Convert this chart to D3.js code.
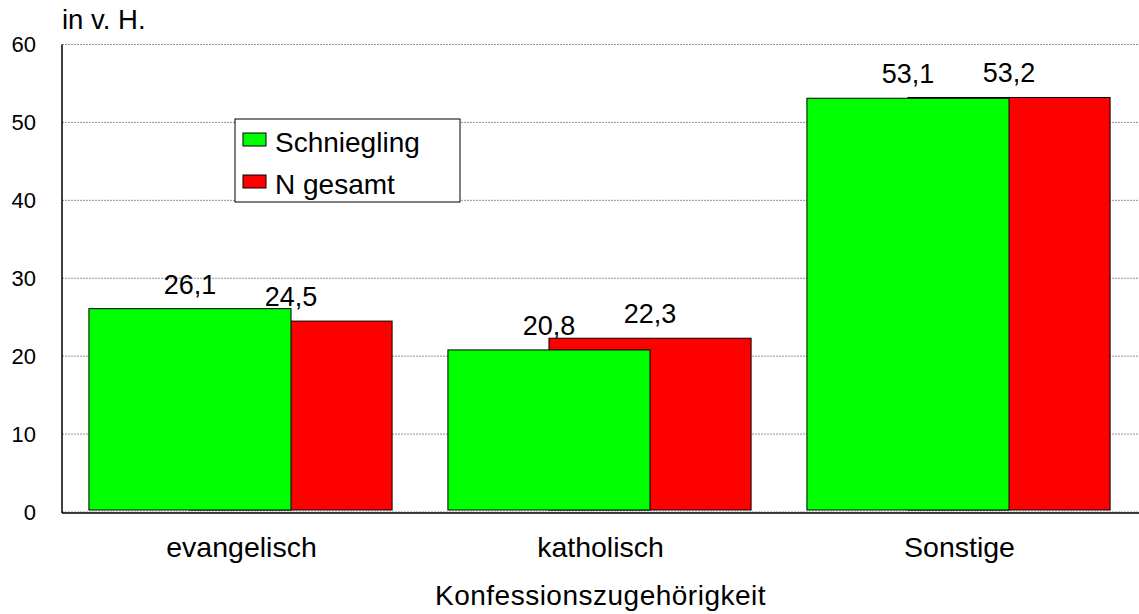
<!DOCTYPE html>
<html>
<head>
<meta charset="utf-8">
<script src="https://cdn.jsdelivr.net/npm/d3@7"></script>
<style>
	body { margin: 0; background: #fff; }
	svg { display: block; }
	text { font-family: "Liberation Sans", Arial, sans-serif; fill: #000; }
</style>
</head>
<body>
<svg width="1139" height="614"></svg>
<script>
// Konfessionszugehörigkeit: Schniegling vs. N gesamt

var categories = ["evangelisch", "katholisch", "Sonstige"];
var seriesNames = ["Schniegling", "N gesamt"];
var schniegling = [26.1, 20.8, 53.1];
var nGesamt = [24.5, 22.3, 53.2];
var yTicks = [0, 10, 20, 30, 40, 50, 60];
var seriesColors = ["#00ff00", "#ff0000"];

function draw(){
	var svg = d3.select("svg");
	var left = 62, right = 1139, top = 44.5, bottom = 512;

	var x = d3.scaleBand().domain(categories).range([left, right]);
	var y = d3.scaleLinear().domain([0, 60]).range([bottom, top]);

	// bars overlap by half their width (red drawn first, green on top)
	var barW = x.bandwidth() * 0.563;
	var groupW = barW * 1.5;
	var values = [schniegling, nGesamt];
	function barX(cat, s){
		return x(cat) + x.bandwidth() / 2 - groupW / 2 + s * barW / 2 - 1;
	}

	// gridlines
	svg.append("g")
		.selectAll("line")
		.data(yTicks)
		.enter().append("line")
		.attr("x1", left).attr("x2", right)
		.attr("y1", d => y(d)).attr("y2", d => y(d))
		.attr("stroke", "#909090")
		.attr("stroke-dasharray", "2,1")
		.attr("stroke-width", 1);

	// tick labels
	svg.append("g")
		.selectAll("text")
		.data(yTicks)
		.enter().append("text")
		.attr("x", 36)
		.attr("y", d => y(d))
		.attr("dy", "0.36em")
		.attr("text-anchor", "end")
		.style("font-size", "22px")
		.text(d => d);

	// bars
	var bars = svg.append("g");
	[1, 0].forEach(function(s){
		bars.selectAll("rect.s" + s)
			.data(categories)
			.enter().append("rect")
			.attr("class", "s" + s)
			.attr("x", c => barX(c, s))
			.attr("width", barW)
			.attr("y", (c, i) => y(values[s][i]))
			.attr("height", (c, i) => y(0) - y(values[s][i]) - 2)
			.attr("fill", seriesColors[s])
			.attr("stroke", "#000")
			.attr("stroke-width", 1);
	});

	// value labels
	[0, 1].forEach(function(s){
		svg.append("g")
			.selectAll("text")
			.data(categories)
			.enter().append("text")
			.attr("x", c => barX(c, s) + barW / 2)
			.attr("y", (c, i) => y(values[s][i]) - 15)
			.attr("text-anchor", "middle")
			.style("font-size", "27px")
			.text((c, i) => String(values[s][i]).replace(".", ","));
	});

	// axis lines
	svg.append("line")
		.attr("x1", left).attr("x2", left)
		.attr("y1", top).attr("y2", bottom + 1)
		.attr("stroke", "#000").attr("stroke-width", 1.5);
	svg.append("line")
		.attr("x1", left).attr("x2", right)
		.attr("y1", bottom + 1).attr("y2", bottom + 1)
		.attr("stroke", "#000").attr("stroke-width", 1.5);

	// category labels
	svg.append("g")
		.selectAll("text")
		.data(categories)
		.enter().append("text")
		.attr("x", c => x(c) + x.bandwidth() / 2)
		.attr("y", 557)
		.attr("text-anchor", "middle")
		.style("font-size", "28.5px")
		.text(c => c);

	svg.append("text")
		.attr("x", (left + right) / 2)
		.attr("y", 605)
		.attr("text-anchor", "middle")
		.style("font-size", "28px")
		.style("letter-spacing", "0.5px")
		.text("Konfessionszugehörigkeit");

	svg.append("text")
		.attr("x", 62)
		.attr("y", 29)
		.style("font-size", "27.5px")
		.text("in v. H.");

	// legend
	var legend = svg.append("g").attr("transform", "translate(235,119)");
	legend.append("rect")
		.attr("width", 225).attr("height", 83)
		.attr("fill", "#fff")
		.attr("stroke", "#000").attr("stroke-width", 1);
	var items = legend.selectAll("g")
		.data(seriesNames)
		.enter().append("g")
		.attr("transform", (d, i) => "translate(8," + (14 + i * 42) + ")");
	items.append("rect")
		.attr("width", 23).attr("height", 13)
		.attr("fill", (d, i) => seriesColors[i])
		.attr("stroke", "#000").attr("stroke-width", 1);
	items.append("text")
		.attr("x", 32)
		.attr("y", 19)
		.style("font-size", "28px")
		.text(d => d);
}

draw();
</script>
</body>
</html>
